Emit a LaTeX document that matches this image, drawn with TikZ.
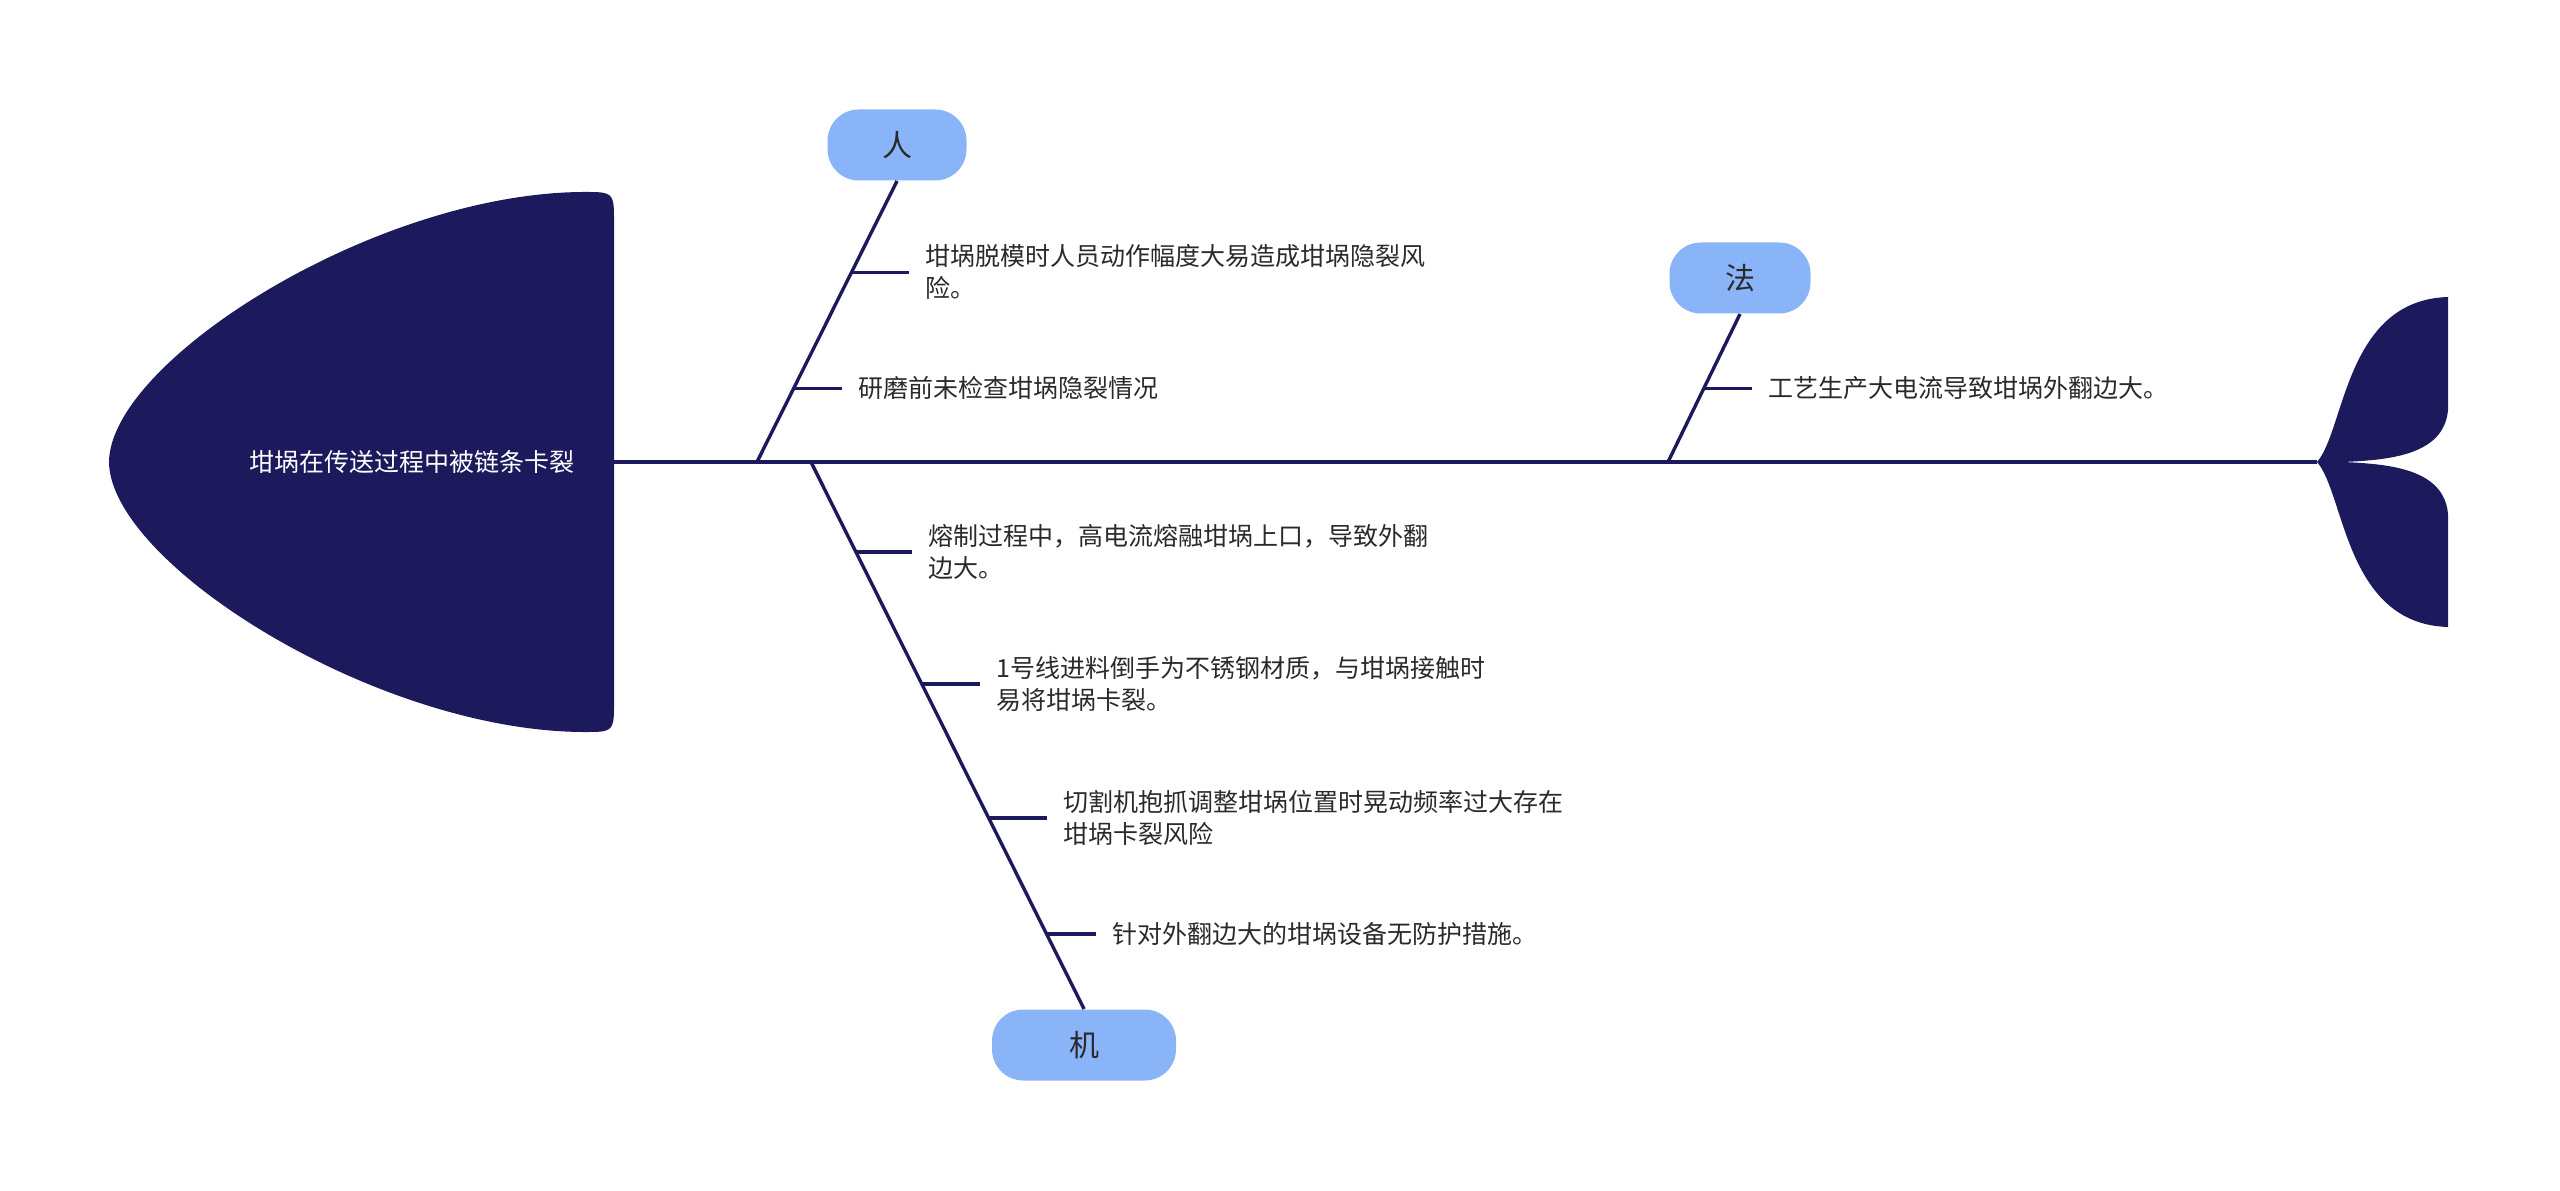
\documentclass[tikz,border=0pt]{standalone}
\usepackage{fontspec}
\setmainfont{Noto Sans CJK SC}
\usetikzlibrary{calc}
\definecolor{navy}{HTML}{1C1A5C}
\definecolor{catfill}{HTML}{8AB4F8}
\definecolor{txt}{HTML}{2A2A2A}
\begin{document}
\begin{tikzpicture}[x=0.4pt,y=-0.4pt,
  bone/.style={draw=navy,line width=1.35pt},
  spine/.style={draw=navy,line width=1.4pt},
  tick/.style={draw=navy,line width=1.35pt},
  cat/.style={fill=catfill,rounded corners=12.5pt,minimum height=28.4pt,inner sep=0pt,font=\fontsize{12}{14}\selectfont,text=txt},
  cause/.style={anchor=west,inner sep=0pt,align=left,font=\fontsize{10}{12.8}\selectfont,text=txt}]
\useasboundingbox (0,0) rectangle (2560,1191);

% spine
\coordinate (spL) at (614,462);
\coordinate (spR) at (2317,462);
\draw[spine] (spL) -- (spR);

% head
\fill[navy] (614,462) -- (614,217) .. controls (614,194) and (612,192) .. (589,192)
  .. controls (380,190) and (110,360) .. (109,462)
  .. controls (110,564) and (380,734) .. (589,732)
  .. controls (612,732) and (614,730) .. (614,707) -- cycle;
\node[text=white,inner sep=0pt,font=\fontsize{10}{12}\selectfont] (head) at (412,462) {坩埚在传送过程中被链条卡裂};

% tail
\fill[navy] (2317,462) .. controls (2345,430) and (2345,300) .. (2448,297)
  -- (2448,410) .. controls (2444,455) and (2390,460) .. (2343,462)
  .. controls (2390,464) and (2444,469) .. (2448,514)
  -- (2448,627) .. controls (2345,624) and (2345,494) .. (2317,462) -- cycle;

% category nodes
\node[cat,minimum width=55.6pt] (ren) at (897,145) {人};
\node[cat,minimum width=56.4pt] (fa) at (1740,278) {法};
\node[cat,minimum width=73.6pt] (ji) at (1084,1045) {机};

% bones
\coordinate (br) at (757,462);
\coordinate (bj) at (811,462);
\coordinate (bf) at (1668,462);
\draw[bone] (br) -- (ren.south);
\draw[bone] (bj) -- (ji.north);
\draw[bone] (bf) -- (fa.south);

% cause texts
\node[cause] (t1) at (925,272) {坩埚脱模时人员动作幅度大易造成坩埚隐裂风\\险。};
\node[cause] (t2) at (858,388) {研磨前未检查坩埚隐裂情况};
\node[cause] (t3) at (928,552) {熔制过程中，高电流熔融坩埚上口，导致外翻\\边大。};
\node[cause] (t4) at (996,684) {1号线进料倒手为不锈钢材质，与坩埚接触时\\易将坩埚卡裂。};
\node[cause] (t5) at (1063,818) {切割机抱抓调整坩埚位置时晃动频率过大存在\\坩埚卡裂风险};
\node[cause] (t6) at (1112,934) {针对外翻边大的坩埚设备无防护措施。};
\node[cause] (t7) at (1768,388) {工艺生产大电流导致坩埚外翻边大。};

% tick points on bones
\coordinate (k1) at ($(br)!0.674!(ren.south)$);
\coordinate (k2) at ($(br)!0.262!(ren.south)$);
\coordinate (k3) at ($(bj)!0.1645!(ji.north)$);
\coordinate (k4) at ($(bj)!0.406!(ji.north)$);
\coordinate (k5) at ($(bj)!0.651!(ji.north)$);
\coordinate (k6) at ($(bj)!0.863!(ji.north)$);
\coordinate (k7) at ($(bf)!0.497!(fa.south)$);

% ticks
\draw[tick] (k1) -- ($(k1 -| t1.west)+(-16,0)$);
\draw[tick] (k2) -- ($(k2 -| t2.west)+(-16,0)$);
\draw[tick] (k3) -- ($(k3 -| t3.west)+(-16,0)$);
\draw[tick] (k4) -- ($(k4 -| t4.west)+(-16,0)$);
\draw[tick] (k5) -- ($(k5 -| t5.west)+(-16,0)$);
\draw[tick] (k6) -- ($(k6 -| t6.west)+(-16,0)$);
\draw[tick] (k7) -- ($(k7 -| t7.west)+(-16,0)$);
\end{tikzpicture}
\end{document}
